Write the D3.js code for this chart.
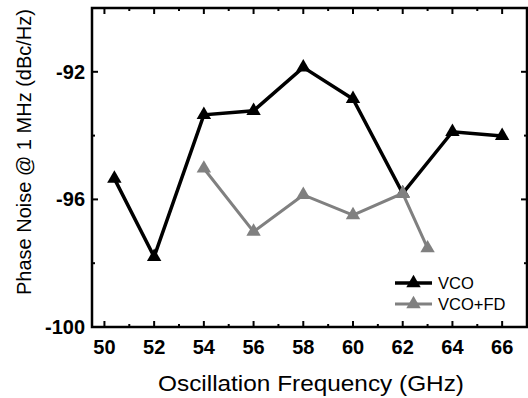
<!DOCTYPE html>
<html>
<head>
<meta charset="utf-8">
<script src="https://cdn.jsdelivr.net/npm/d3@7"></script>
<style>
  body { margin: 0; background: #fff; }
  svg { display: block; font-family: Arial, "Liberation Sans", sans-serif; }
</style>
</head>
<body>
<div id="chart"></div>
<script>
// data
const vcoFreq = [50.4, 52, 54, 56, 58, 60, 62, 64, 66];
const vcoNoise = [-95.35, -97.8, -93.35, -93.22, -91.86, -92.85, -95.81, -93.88, -94.01];
const fdFreq = [54, 56, 58, 60, 62, 63];
const fdNoise = [-95.03, -97.01, -95.86, -96.49, -95.81, -97.53];
const xTicks = [50, 52, 54, 56, 58, 60, 62, 64, 66];
const yTicks = [-100, -96, -92];

const width = 528, height = 398;
const margin = { left: 92, top: 8, right: 1, bottom: 71 };

const svg = d3.select('#chart').append('svg')
  .attr('width', width)
  .attr('height', height);

const x = d3.scaleLinear()
  .domain([49.5, 67])
  .range([margin.left, width - margin.right]);

const y = d3.scaleLinear()
  .domain([-100, -90])
  .range([height - margin.bottom, margin.top]);

const minorX = d3.range(51, 67, 2);
const minorY = [-98, -94, -90];

// frame
svg.append('rect')
  .attr('x', x(49.5)).attr('y', y(-90))
  .attr('width', x(67) - x(49.5)).attr('height', y(-100) - y(-90))
  .attr('fill', 'none').attr('stroke', '#000').attr('stroke-width', 2.5);

// ticks inward on all four sides
const tickG = svg.append('g').attr('stroke', '#000').attr('stroke-width', 2);
[[xTicks, 6], [minorX, 3]].forEach(([vals, len]) => {
  tickG.selectAll(null).data(vals).enter().append('line')
    .attr('x1', d => x(d)).attr('x2', d => x(d))
    .attr('y1', y(-100)).attr('y2', y(-100) - len);
  tickG.selectAll(null).data(vals).enter().append('line')
    .attr('x1', d => x(d)).attr('x2', d => x(d))
    .attr('y1', y(-90)).attr('y2', y(-90) + len);
});
[[yTicks, 6], [minorY, 3]].forEach(([vals, len]) => {
  tickG.selectAll(null).data(vals).enter().append('line')
    .attr('y1', d => y(d)).attr('y2', d => y(d))
    .attr('x1', x(49.5)).attr('x2', x(49.5) + len);
  tickG.selectAll(null).data(vals).enter().append('line')
    .attr('y1', d => y(d)).attr('y2', d => y(d))
    .attr('x1', x(67)).attr('x2', x(67) - len);
});

// tick labels
svg.append('g').selectAll('text').data(xTicks).enter().append('text')
  .attr('x', d => x(d)).attr('y', y(-100) + 27)
  .attr('text-anchor', 'middle')
  .attr('font-size', 20).attr('font-weight', 'bold')
  .text(d => d);

svg.append('g').selectAll('text').data(yTicks).enter().append('text')
  .attr('x', x(49.5) - 7).attr('y', d => y(d) + 7)
  .attr('text-anchor', 'end')
  .attr('font-size', 20).attr('font-weight', 'bold')
  .text(d => d);

// axis titles
svg.append('text')
  .attr('x', 311).attr('y', 391)
  .attr('text-anchor', 'middle')
  .attr('font-size', 22)
  .attr('textLength', 306)
  .attr('lengthAdjust', 'spacingAndGlyphs')
  .text('Oscillation Frequency (GHz)');

svg.append('text')
  .attr('transform', 'translate(31,152) rotate(-90)')
  .attr('text-anchor', 'middle')
  .attr('font-size', 20)
  .text('Phase Noise @ 1 MHz (dBc/Hz)');

// series
const series = [
  { freq: vcoFreq, noise: vcoNoise, color: '#000', width: 3.5, name: 'VCO' },
  { freq: fdFreq, noise: fdNoise, color: '#808080', width: 3, name: 'VCO+FD' }
];

const line = d3.line().x(d => x(d[0])).y(d => y(d[1]));
const tri = d3.symbol().type(d3.symbolTriangle).size(90);

series.forEach(s => {
  const pts = s.freq.map((f, i) => [f, s.noise[i]]);
  svg.append('path')
    .datum(pts)
    .attr('fill', 'none')
    .attr('stroke', s.color)
    .attr('stroke-width', s.width)
    .attr('d', line);
  svg.append('g').selectAll('path').data(pts).enter().append('path')
    .attr('transform', d => 'translate(' + x(d[0]) + ',' + y(d[1]) + ')')
    .attr('fill', s.color)
    .attr('d', tri);
});

// legend
const legend = svg.append('g').attr('transform', 'translate(395,283)');
series.forEach((s, i) => {
  const g = legend.append('g').attr('transform', 'translate(0,' + i * 21 + ')');
  g.append('line').attr('x1', 0).attr('x2', 37)
    .attr('stroke', s.color).attr('stroke-width', s.width);
  g.append('path').attr('transform', 'translate(18.5,0)')
    .attr('fill', s.color).attr('d', tri);
  g.append('text').attr('x', 43).attr('y', 6)
    .attr('font-size', 16.5)
    .text(s.name);
});
</script>
</body>
</html>
